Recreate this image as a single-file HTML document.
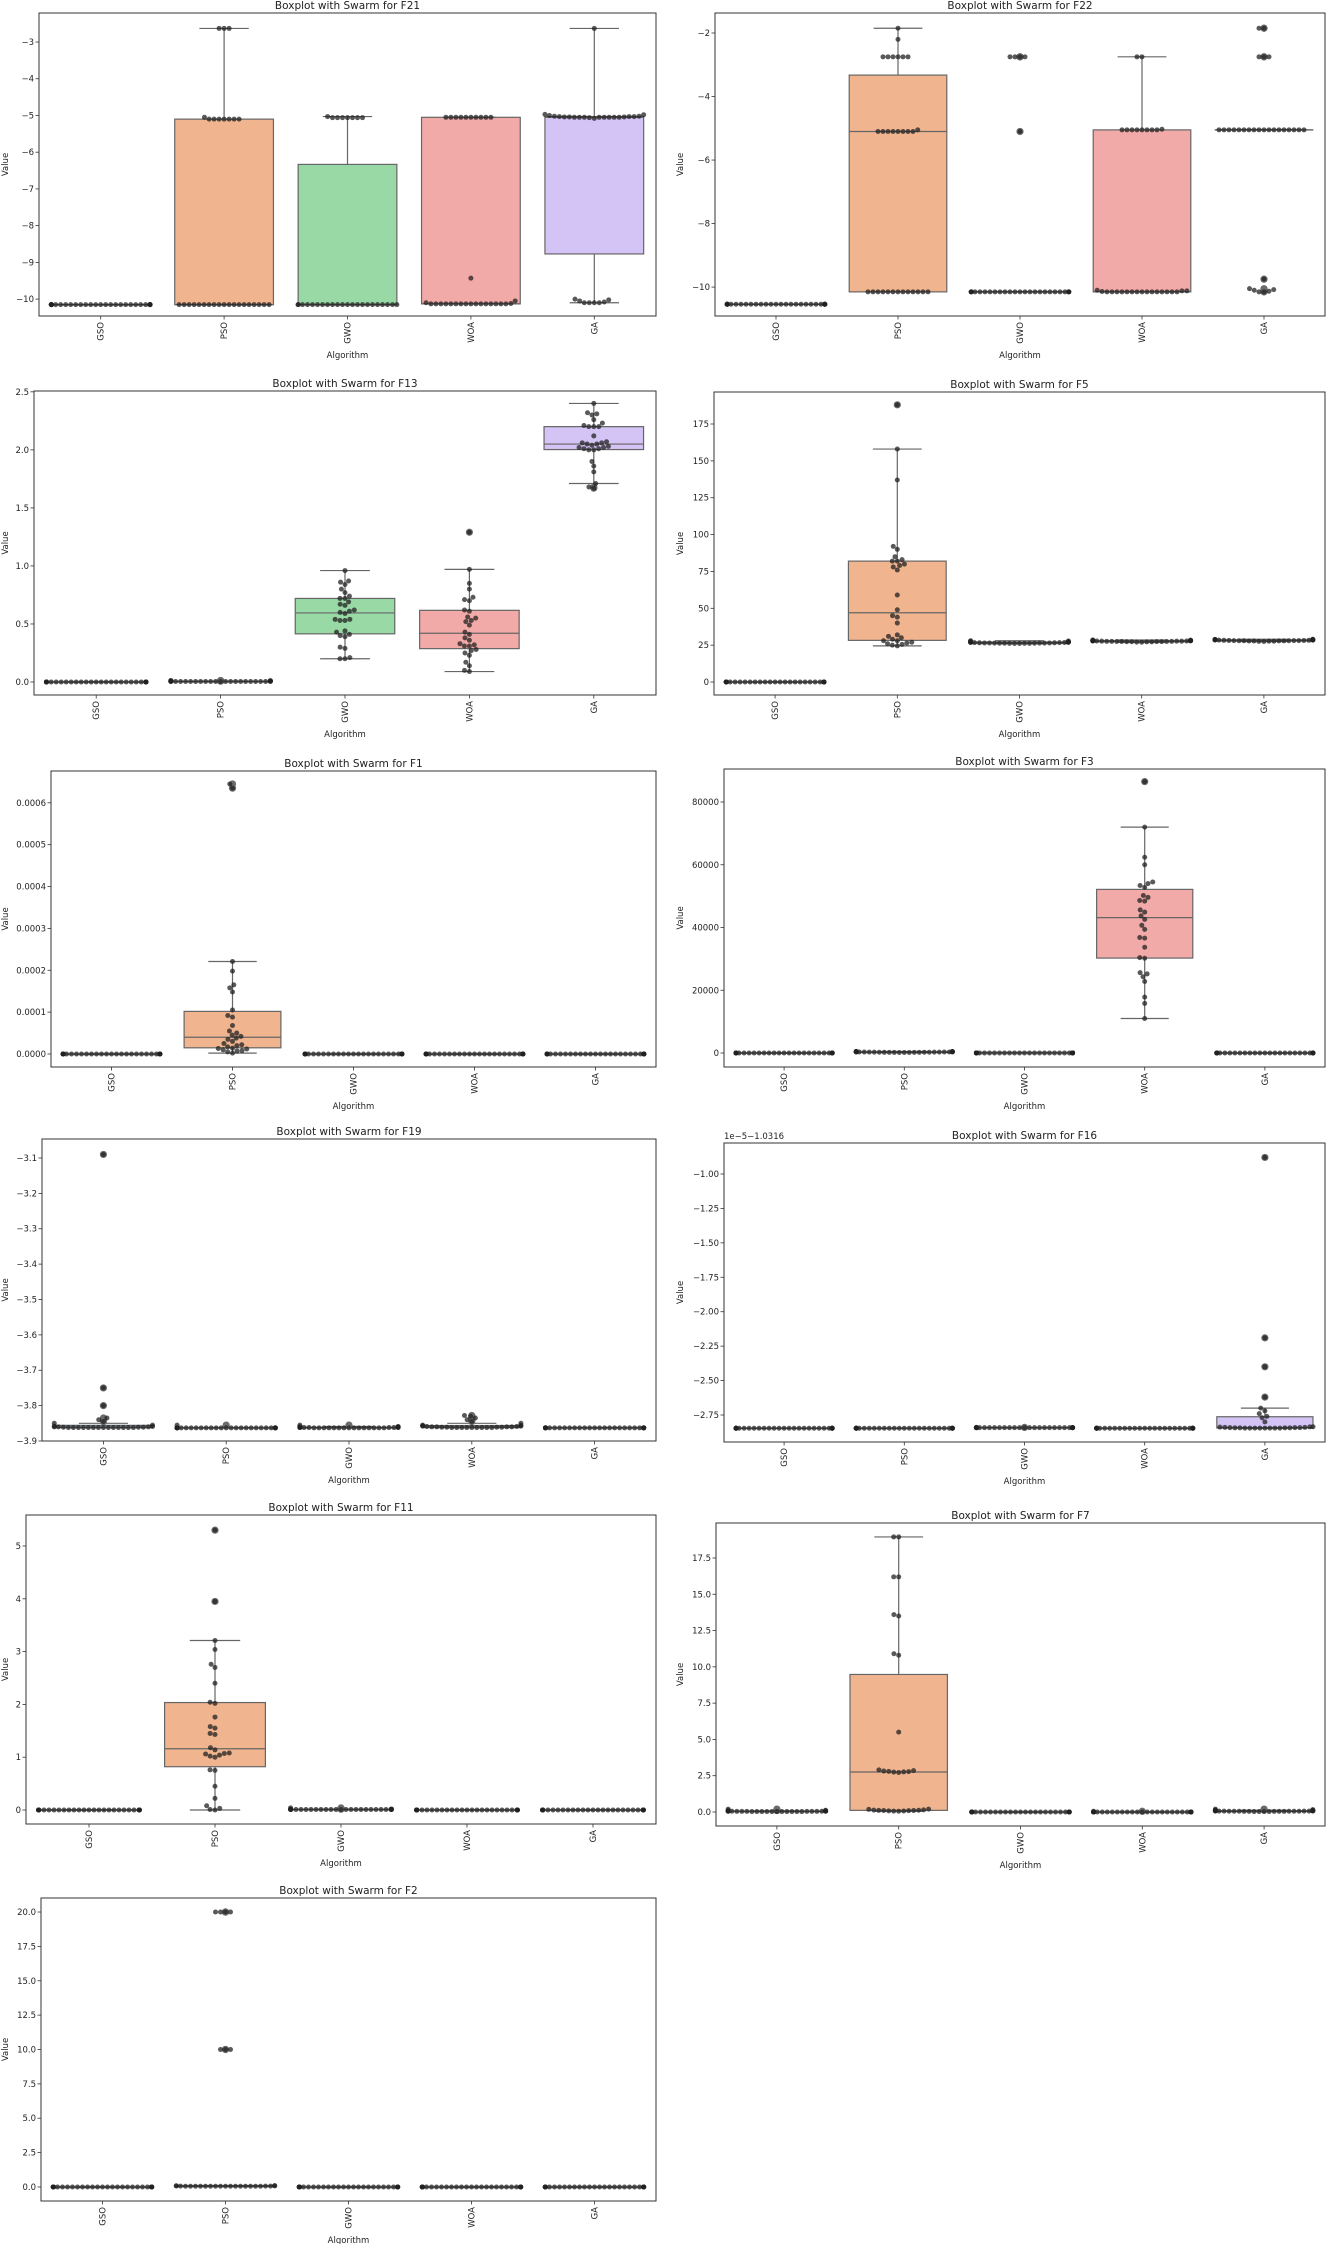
<!DOCTYPE html>
<html><head><meta charset="utf-8"><title>Boxplots with Swarm</title>
<style>
html,body{margin:0;padding:0;background:#fff;}
svg{display:block;}
text{font-family:"DejaVu Sans","Liberation Sans",sans-serif;fill:#222;}
</style></head>
<body>
<svg id="fig" width="1327" height="2244" viewBox="0 0 1327 2244" xmlns="http://www.w3.org/2000/svg"></svg>
<script>
const categories = ["GSO","PSO","GWO","WOA","GA"];
const boxColors = ["#a9cbee","#f0b58f","#98d9a6","#f2aaa8","#d4c3f5"];

// ---- F21 ----
const f21Ticks = [-10,-9,-8,-7,-6,-5,-4,-3];
const f21TickLabels = ["−10","−9","−8","−7","−6","−5","−4","−3"];
const f21GSO = [-10.15,-10.15,-10.15,-10.15,-10.15,-10.15,-10.15,-10.15,-10.15,-10.15,-10.15,-10.15,-10.15,-10.15,-10.15,-10.15,-10.15,-10.15,-10.15,-10.15,-10.15,-10.15,-10.15,-10.15,-10.15,-10.15,-10.15,-10.15,-10.15,-10.15];
const f21PSO = [-10.15,-10.15,-10.15,-10.15,-10.15,-10.15,-10.15,-10.15,-10.15,-10.15,-10.15,-10.15,-10.15,-10.15,-10.15,-10.15,-10.15,-10.15,-10.15,-5.1,-5.1,-5.1,-5.1,-5.1,-5.1,-5.1,-5.05,-2.63,-2.63,-2.63];
const f21GWO = [-10.15,-10.15,-10.15,-10.15,-10.15,-10.15,-10.15,-10.15,-10.15,-10.15,-10.15,-10.15,-10.15,-10.15,-10.15,-10.15,-10.15,-10.15,-10.15,-10.15,-10.15,-10.15,-5.06,-5.06,-5.06,-5.06,-5.06,-5.06,-5.06,-5.03];
const f21WOA = [-10.13,-10.13,-10.13,-10.13,-10.13,-10.13,-10.13,-10.13,-10.13,-10.13,-10.13,-10.13,-10.13,-10.13,-10.13,-10.13,-10.12,-10.1,-10.05,-9.43,-5.05,-5.05,-5.05,-5.05,-5.05,-5.05,-5.05,-5.05,-5.05,-5.05];
const f21GA = [-10.1,-10.1,-10.1,-10.1,-10.08,-10.05,-10.02,-10.0,-5.08,-5.06,-5.05,-5.05,-5.05,-5.05,-5.05,-5.05,-5.05,-5.05,-5.04,-5.04,-5.04,-5.03,-5.03,-5.03,-5.02,-5.02,-5.0,-4.98,-4.97,-2.63];

// ---- F22 ----
const f22Ticks = [-10,-8,-6,-4,-2];
const f22TickLabels = ["−10","−8","−6","−4","−2"];
const f22GSO = [-10.54,-10.54,-10.54,-10.54,-10.54,-10.54,-10.54,-10.54,-10.54,-10.54,-10.54,-10.54,-10.54,-10.54,-10.54,-10.54,-10.54,-10.54,-10.54,-10.54,-10.54,-10.54,-10.54,-10.54,-10.54,-10.54,-10.54,-10.54,-10.54,-10.54];
const f22PSO = [-10.15,-10.15,-10.15,-10.15,-10.15,-10.15,-10.15,-10.15,-10.15,-10.15,-10.15,-10.15,-10.15,-5.1,-5.1,-5.1,-5.1,-5.1,-5.1,-5.1,-5.1,-5.05,-2.75,-2.75,-2.75,-2.75,-2.75,-2.75,-2.2,-1.85];
const f22GWO = [-10.15,-10.15,-10.15,-10.15,-10.15,-10.15,-10.15,-10.15,-10.15,-10.15,-10.15,-10.15,-10.15,-10.15,-10.15,-10.15,-10.15,-10.15,-10.15,-10.15,-10.15,-10.15,-10.15,-10.15,-10.15,-5.1,-2.75,-2.75,-2.75,-2.75];
const f22WOA = [-10.15,-10.15,-10.15,-10.15,-10.15,-10.15,-10.15,-10.15,-10.15,-10.15,-10.15,-10.15,-10.15,-10.15,-10.15,-10.14,-10.12,-10.12,-10.1,-5.05,-5.05,-5.05,-5.05,-5.05,-5.05,-5.05,-5.05,-5.03,-2.75,-2.75];
const f22GA = [-10.15,-10.15,-10.13,-10.1,-10.08,-10.05,-9.75,-5.05,-5.05,-5.05,-5.05,-5.05,-5.05,-5.05,-5.05,-5.05,-5.05,-5.05,-5.05,-5.05,-5.05,-5.05,-5.05,-5.05,-5.05,-2.75,-2.75,-2.75,-1.85,-1.85];

// ---- F13 ----
const f13Ticks = [0,0.5,1,1.5,2,2.5];
const f13TickLabels = ["0.0","0.5","1.0","1.5","2.0","2.5"];
const f13GSO = [0,0,0,0,0,0,0,0,0,0,0,0,0,0,0,0,0,0,0,0,0,0,0,0,0,0,0,0,0,0];
const f13PSO = [0.004,0.004,0.004,0.004,0.004,0.004,0.004,0.004,0.004,0.004,0.004,0.004,0.004,0.004,0.004,0.004,0.004,0.004,0.004,0.004,0.005,0.005,0.005,0.006,0.007,0.008,0.009,0.01,0.012,0.013];
const f13GWO = [0.2,0.2,0.21,0.29,0.3,0.39,0.4,0.41,0.43,0.44,0.53,0.53,0.54,0.54,0.59,0.6,0.61,0.62,0.66,0.67,0.69,0.72,0.72,0.74,0.77,0.8,0.84,0.86,0.87,0.96];
const f13WOA = [0.09,0.1,0.14,0.17,0.23,0.25,0.27,0.28,0.31,0.31,0.32,0.33,0.36,0.38,0.41,0.43,0.49,0.52,0.53,0.55,0.56,0.61,0.62,0.7,0.71,0.73,0.8,0.85,0.97,1.29];
const f13GA = [1.67,1.68,1.71,1.81,1.86,1.9,2.0,2.0,2.01,2.01,2.02,2.02,2.03,2.04,2.05,2.05,2.06,2.06,2.07,2.12,2.2,2.2,2.2,2.21,2.23,2.26,2.3,2.31,2.32,2.4];

// ---- F5 ----
const f5Ticks = [0,25,50,75,100,125,150,175];
const f5TickLabels = ["0","25","50","75","100","125","150","175"];
const f5GSO = [0,0,0,0,0,0,0,0,0,0,0,0,0,0,0,0,0,0,0,0,0,0,0,0,0,0,0,0,0,0];
const f5PSO = [24.5,25,25.5,26,26.5,27,28,28,29,30,31,32,40,44,45,49,59,76,78,79,80,82,82,83,85,90,92,137,158,188];
const f5GWO = [26.1,26.1,26.2,26.2,26.2,26.3,26.3,26.3,26.4,26.4,26.4,26.5,26.5,26.5,26.6,26.6,26.7,26.7,26.8,26.8,26.9,27.0,27.0,27.1,27.2,27.3,27.4,27.6,27.8,28.0];
const f5WOA = [27.0,27.1,27.2,27.2,27.3,27.3,27.4,27.4,27.5,27.5,27.5,27.6,27.6,27.6,27.7,27.7,27.7,27.8,27.8,27.8,27.9,27.9,28.0,28.0,28.1,28.1,28.2,28.3,28.4,28.5];
const f5GA = [27.5,27.6,27.7,27.7,27.8,27.8,27.9,27.9,28.0,28.0,28.0,28.1,28.1,28.1,28.2,28.2,28.3,28.3,28.4,28.4,28.5,28.5,28.6,28.6,28.7,28.7,28.8,28.8,28.9,29.0];

// ---- F1 ----
const f1Ticks = [0,0.0001,0.0002,0.0003,0.0004,0.0005,0.0006];
const f1TickLabels = ["0.0000","0.0001","0.0002","0.0003","0.0004","0.0005","0.0006"];
const f1GSO = [0,0,0,0,0,0,0,0,0,0,0,0,0,0,0,0,0,0,0,0,0,0,0,0,0,0,0,0,0,0];
const f1PSO = [0.000002,0.000005,0.000007,0.000008,0.00001,0.000012,0.000013,0.000014,0.000017,0.00002,0.000022,0.000025,0.00003,0.000035,0.000038,0.000042,0.000045,0.00005,0.000055,0.000068,0.000088,0.000092,0.000105,0.000148,0.000158,0.000165,0.000198,0.000221,0.000635,0.000645];
const f1GWO = [0,0,0,0,0,0,0,0,0,0,0,0,0,0,0,0,0,0,0,0,0,0,0,0,0,0,0,0,0,0];
const f1WOA = [0,0,0,0,0,0,0,0,0,0,0,0,0,0,0,0,0,0,0,0,0,0,0,0,0,0,0,0,0,0];
const f1GA = [0,0,0,0,0,0,0,0,0,0,0,0,0,0,0,0,0,0,0,0,0,0,0,0,0,0,0,0,0,0];

// ---- F3 ----
const f3Ticks = [0,20000,40000,60000,80000];
const f3TickLabels = ["0","20000","40000","60000","80000"];
const f3GSO = [0,0,0,0,0,0,0,0,0,0,0,0,0,0,0,0,0,0,0,0,0,0,0,0,0,0,0,0,0,0];
const f3PSO = [150,160,170,180,190,200,210,220,230,240,250,260,270,280,290,300,310,320,330,340,350,360,370,380,390,400,420,440,460,500];
const f3GWO = [20,20,20,20,20,20,20,20,20,20,20,20,20,20,20,20,20,20,20,20,20,20,20,20,20,20,20,20,20,20];
const f3WOA = [11000,15800,17800,22800,24300,25200,25600,30200,30400,33700,36600,36800,39400,40700,42600,43700,44900,45600,48400,48600,49600,50200,52800,53400,54000,54500,60000,62400,72000,86500];
const f3GA = [10,10,10,10,10,10,10,10,10,10,10,10,10,10,10,10,10,10,10,10,10,10,10,10,10,10,10,10,10,10];

// ---- F19 ----
const f19Ticks = [-3.9,-3.8,-3.7,-3.6,-3.5,-3.4,-3.3,-3.2,-3.1];
const f19TickLabels = ["−3.9","−3.8","−3.7","−3.6","−3.5","−3.4","−3.3","−3.2","−3.1"];
const f19GSO = [-3.862,-3.862,-3.862,-3.862,-3.862,-3.862,-3.862,-3.862,-3.862,-3.862,-3.862,-3.862,-3.862,-3.862,-3.861,-3.861,-3.861,-3.86,-3.86,-3.86,-3.859,-3.858,-3.855,-3.85,-3.845,-3.84,-3.835,-3.8,-3.75,-3.09];
const f19PSO = [-3.863,-3.863,-3.863,-3.863,-3.863,-3.863,-3.863,-3.863,-3.863,-3.863,-3.863,-3.863,-3.863,-3.863,-3.863,-3.863,-3.863,-3.863,-3.863,-3.863,-3.863,-3.863,-3.863,-3.863,-3.863,-3.863,-3.863,-3.863,-3.863,-3.855];
const f19GWO = [-3.863,-3.863,-3.863,-3.863,-3.863,-3.863,-3.863,-3.863,-3.863,-3.863,-3.863,-3.863,-3.863,-3.863,-3.863,-3.862,-3.862,-3.862,-3.862,-3.862,-3.862,-3.862,-3.861,-3.861,-3.861,-3.86,-3.86,-3.86,-3.859,-3.855];
const f19WOA = [-3.862,-3.862,-3.862,-3.862,-3.862,-3.862,-3.862,-3.862,-3.862,-3.861,-3.861,-3.861,-3.861,-3.86,-3.86,-3.86,-3.86,-3.859,-3.859,-3.858,-3.858,-3.857,-3.856,-3.855,-3.85,-3.845,-3.84,-3.835,-3.83,-3.828];
const f19GA = [-3.863,-3.863,-3.863,-3.863,-3.863,-3.863,-3.863,-3.863,-3.863,-3.863,-3.863,-3.863,-3.863,-3.863,-3.863,-3.863,-3.863,-3.863,-3.863,-3.863,-3.863,-3.863,-3.863,-3.863,-3.863,-3.863,-3.863,-3.863,-3.863,-3.863];

// ---- F16 (values in units of 1e-5, offset -1.0316) ----
const f16Ticks = [-2.75,-2.5,-2.25,-2.0,-1.75,-1.5,-1.25,-1.0];
const f16TickLabels = ["−2.75","−2.50","−2.25","−2.00","−1.75","−1.50","−1.25","−1.00"];
const f16GSO = [-2.846,-2.846,-2.846,-2.846,-2.846,-2.846,-2.846,-2.846,-2.846,-2.846,-2.846,-2.846,-2.846,-2.846,-2.846,-2.846,-2.846,-2.846,-2.846,-2.846,-2.846,-2.846,-2.846,-2.846,-2.846,-2.846,-2.846,-2.846,-2.846,-2.846];
const f16PSO = [-2.846,-2.846,-2.846,-2.846,-2.846,-2.846,-2.846,-2.846,-2.846,-2.846,-2.846,-2.846,-2.846,-2.846,-2.846,-2.846,-2.846,-2.846,-2.846,-2.846,-2.846,-2.846,-2.846,-2.846,-2.846,-2.846,-2.846,-2.846,-2.846,-2.846];
const f16GWO = [-2.842,-2.842,-2.842,-2.842,-2.842,-2.842,-2.842,-2.842,-2.842,-2.842,-2.842,-2.842,-2.842,-2.842,-2.842,-2.842,-2.842,-2.842,-2.842,-2.842,-2.842,-2.842,-2.842,-2.842,-2.842,-2.842,-2.842,-2.842,-2.842,-2.84];
const f16WOA = [-2.846,-2.846,-2.846,-2.846,-2.846,-2.846,-2.846,-2.846,-2.846,-2.846,-2.846,-2.846,-2.846,-2.846,-2.846,-2.846,-2.846,-2.846,-2.846,-2.846,-2.846,-2.846,-2.846,-2.846,-2.846,-2.846,-2.846,-2.846,-2.846,-2.846];
const f16GA = [-2.845,-2.845,-2.845,-2.845,-2.845,-2.845,-2.845,-2.845,-2.843,-2.843,-2.843,-2.843,-2.842,-2.842,-2.842,-2.84,-2.84,-2.838,-2.836,-2.835,-2.8,-2.77,-2.76,-2.74,-2.72,-2.7,-2.62,-2.4,-2.19,-0.88];

// ---- F11 ----
const f11Ticks = [0,1,2,3,4,5];
const f11TickLabels = ["0","1","2","3","4","5"];
const f11GSO = [0,0,0,0,0,0,0,0,0,0,0,0,0,0,0,0,0,0,0,0,0,0,0,0,0,0,0,0,0,0];
const f11PSO = [0,0.01,0.03,0.08,0.22,0.45,0.75,0.76,1.0,1.02,1.04,1.06,1.07,1.08,1.14,1.18,1.43,1.45,1.55,1.58,1.76,2.02,2.04,2.4,2.7,2.76,3.04,3.21,3.95,5.3];
const f11GWO = [0.01,0.01,0.01,0.01,0.01,0.01,0.01,0.01,0.01,0.01,0.01,0.01,0.01,0.01,0.01,0.01,0.01,0.01,0.01,0.01,0.01,0.01,0.01,0.01,0.01,0.01,0.01,0.015,0.02,0.04];
const f11WOA = [0,0,0,0,0,0,0,0,0,0,0,0,0,0,0,0,0,0,0,0,0,0,0,0,0,0,0,0,0,0];
const f11GA = [0,0,0,0,0,0,0,0,0,0,0,0,0,0,0,0,0,0,0,0,0,0,0,0,0,0,0,0,0,0];

// ---- F7 ----
const f7Ticks = [0,2.5,5,7.5,10,12.5,15,17.5];
const f7TickLabels = ["0.0","2.5","5.0","7.5","10.0","12.5","15.0","17.5"];
const f7GSO = [0.03,0.03,0.03,0.03,0.03,0.03,0.03,0.03,0.03,0.03,0.03,0.04,0.04,0.04,0.04,0.04,0.04,0.05,0.05,0.05,0.05,0.05,0.06,0.06,0.06,0.07,0.08,0.1,0.12,0.2];
const f7PSO = [0.05,0.06,0.07,0.08,0.09,0.1,0.1,0.11,0.12,0.13,0.15,0.18,0.2,2.72,2.75,2.76,2.78,2.8,2.82,2.85,2.9,5.5,10.8,10.9,13.5,13.6,16.2,16.2,18.95,18.95];
const f7GWO = [0,0,0,0,0,0,0,0,0,0,0,0,0,0,0,0,0,0,0,0,0,0,0,0,0,0,0,0,0,0];
const f7WOA = [0,0,0,0,0,0,0,0,0,0,0,0,0,0,0,0,0,0,0,0,0,0,0,0,0,0,0,0,0,0.05];
const f7GA = [0.03,0.03,0.03,0.03,0.04,0.04,0.04,0.04,0.04,0.05,0.05,0.05,0.05,0.05,0.05,0.06,0.06,0.06,0.06,0.07,0.07,0.07,0.08,0.08,0.09,0.1,0.12,0.14,0.16,0.2];

// ---- F2 ----
const f2Ticks = [0,2.5,5,7.5,10,12.5,15,17.5,20];
const f2TickLabels = ["0.0","2.5","5.0","7.5","10.0","12.5","15.0","17.5","20.0"];
const f2GSO = [0,0,0,0,0,0,0,0,0,0,0,0,0,0,0,0,0,0,0,0,0,0,0,0,0,0,0,0,0,0];
const f2PSO = [0.05,0.05,0.05,0.05,0.05,0.05,0.05,0.05,0.05,0.05,0.05,0.05,0.05,0.05,0.05,0.05,0.06,0.06,0.06,0.07,0.08,0.09,0.1,10,10,10,20,20,20,20];
const f2GWO = [0,0,0,0,0,0,0,0,0,0,0,0,0,0,0,0,0,0,0,0,0,0,0,0,0,0,0,0,0,0];
const f2WOA = [0,0,0,0,0,0,0,0,0,0,0,0,0,0,0,0,0,0,0,0,0,0,0,0,0,0,0,0,0,0];
const f2GA = [0,0,0,0,0,0,0,0,0,0,0,0,0,0,0,0,0,0,0,0,0,0,0,0,0,0,0,0,0,0];

// ---- layout (pixel geometry kept separate from data) ----
const panels = [
 {id:"f21",title:"Boxplot with Swarm for F21",L:39,R:656,T:13,B:316,ymin:-10.46,ymax:-2.21,labX:5,data:[f21GSO,f21PSO,f21GWO,f21WOA,f21GA],ticks:f21Ticks,tl:f21TickLabels},
 {id:"f22",title:"Boxplot with Swarm for F22",L:715,R:1325,T:13,B:316,ymin:-10.91,ymax:-1.37,labX:680,data:[f22GSO,f22PSO,f22GWO,f22WOA,f22GA],ticks:f22Ticks,tl:f22TickLabels},
 {id:"f13",title:"Boxplot with Swarm for F13",L:34,R:656,T:391,B:695,ymin:-0.112,ymax:2.507,labX:5,data:[f13GSO,f13PSO,f13GWO,f13WOA,f13GA],ticks:f13Ticks,tl:f13TickLabels},
 {id:"f5",title:"Boxplot with Swarm for F5",L:714,R:1325,T:392,B:695,ymin:-8.8,ymax:196.7,labX:680,data:[f5GSO,f5PSO,f5GWO,f5WOA,f5GA],ticks:f5Ticks,tl:f5TickLabels},
 {id:"f1",title:"Boxplot with Swarm for F1",L:51,R:656,T:771,B:1067,ymin:-0.0000311,ymax:0.000676,labX:5,data:[f1GSO,f1PSO,f1GWO,f1WOA,f1GA],ticks:f1Ticks,tl:f1TickLabels},
 {id:"f3",title:"Boxplot with Swarm for F3",L:724,R:1325,T:769,B:1067,ymin:-4462,ymax:90518,labX:680,data:[f3GSO,f3PSO,f3GWO,f3WOA,f3GA],ticks:f3Ticks,tl:f3TickLabels},
 {id:"f19",title:"Boxplot with Swarm for F19",L:42,R:656,T:1139,B:1441,ymin:-3.9,ymax:-3.0463,labX:5,data:[f19GSO,f19PSO,f19GWO,f19WOA,f19GA],ticks:f19Ticks,tl:f19TickLabels},
 {id:"f16",title:"Boxplot with Swarm for F16",L:724,R:1325,T:1143,B:1442,ymin:-2.946,ymax:-0.775,labX:680,data:[f16GSO,f16PSO,f16GWO,f16WOA,f16GA],ticks:f16Ticks,tl:f16TickLabels,offset:"1e−5−1.0316"},
 {id:"f11",title:"Boxplot with Swarm for F11",L:26,R:656,T:1515,B:1824,ymin:-0.265,ymax:5.587,labX:5,data:[f11GSO,f11PSO,f11GWO,f11WOA,f11GA],ticks:f11Ticks,tl:f11TickLabels},
 {id:"f7",title:"Boxplot with Swarm for F7",L:716,R:1325,T:1523,B:1826,ymin:-0.965,ymax:19.91,labX:680,data:[f7GSO,f7PSO,f7GWO,f7WOA,f7GA],ticks:f7Ticks,tl:f7TickLabels},
 {id:"f2",title:"Boxplot with Swarm for F2",L:41,R:656,T:1898,B:2201,ymin:-1.02,ymax:21.02,labX:5,data:[f2GSO,f2PSO,f2GWO,f2WOA,f2GA],ticks:f2Ticks,tl:f2TickLabels}
];

const NS = "http://www.w3.org/2000/svg";
const svg = document.getElementById("fig");
function mk(tag, attrs, parent){
  const e = document.createElementNS(NS, tag);
  for (const k in attrs) e.setAttribute(k, attrs[k]);
  parent.appendChild(e);
  return e;
}
function quant(s, q){
  const pos = (s.length-1)*q, lo = Math.floor(pos), hi = Math.ceil(pos);
  return s[lo] + (s[hi]-s[lo])*(pos-lo);
}
function stats(vals){
  const s = vals.slice().sort((a,b)=>a-b);
  const q1 = quant(s,0.25), med = quant(s,0.5), q3 = quant(s,0.75), iqr = q3-q1;
  const lof = q1-1.5*iqr, hif = q3+1.5*iqr;
  const inside = s.filter(v=>v>=lof-1e-12 && v<=hif+1e-12);
  return {q1, med, q3, lo: inside[0], hi: inside[inside.length-1], fliers: s.filter(v=>v<lof-1e-12 || v>hif+1e-12)};
}
function swarm(pys, d, maxOff){
  const idx = pys.map((y,i)=>i).sort((a,b)=>pys[b]-pys[a]);
  const placed = [], out = new Array(pys.length);
  for (const i of idx){
    const py = pys[i];
    const cands = [0];
    const near = placed.filter(q=>Math.abs(q.y-py) < d);
    for (const q of near){
      const dx = Math.sqrt(Math.max(0, d*d - (q.y-py)*(q.y-py)));
      cands.push(q.x+dx, q.x-dx);
    }
    cands.sort((a,b)=>Math.abs(a)-Math.abs(b) || a-b);
    let x = 0;
    for (const c of cands){
      if (near.every(q=>Math.hypot(q.x-c, q.y-py) >= d-0.01)) { x = c; break; }
    }
    placed.push({x, y:py});
    out[i] = Math.max(-maxOff, Math.min(maxOff, x));
  }
  return out;
}

panels.forEach(p=>{
  const g = mk("g", {}, svg);
  
  
  const y = v => p.B - (v - p.ymin)/(p.ymax - p.ymin)*(p.B - p.T);
  const band = (p.R - p.L)/categories.length;
  const cx = i => p.L + band*(i+0.5);

  const title = mk("text", {x:(p.L+p.R)/2, y:p.T-4, "text-anchor":"middle", "font-size":"10.5"}, g);
  title.textContent = p.title;
  
  

  if (p.offset){
    const ot = mk("text", {x:p.L, y:p.T-4, "font-size":"8.5"}, g);
    ot.textContent = p.offset;
    
    
  }

  p.ticks.forEach((t,k)=>{
    const ty = y(t);
    const tk = mk("line", {x1:p.L-3.5, x2:p.L, y1:ty, y2:ty, stroke:"#333", "stroke-width":"0.8"}, g);
    
    
    const lb = mk("text", {x:p.L-5, y:ty+3, "text-anchor":"end", "font-size":"8.5"}, g);
    lb.textContent = p.tl[k];
    
    
  });
  const yl = mk("text", {x:0, y:0, "text-anchor":"middle", "font-size":"8.5", transform:`translate(${p.labX+3},${(p.T+p.B)/2}) rotate(-90)`}, g);
  yl.textContent = "Value";
  
  

  categories.forEach((c,i)=>{
    const x = cx(i);
    const tk = mk("line", {x1:x, x2:x, y1:p.B, y2:p.B+3.5, stroke:"#333", "stroke-width":"0.8"}, g);
    
    
    const lb = mk("text", {x:0, y:0, "text-anchor":"end", "font-size":"8.5", transform:`translate(${x+3},${p.B+6}) rotate(-90)`}, g);
    lb.textContent = c;
    
    
  });
  const xl = mk("text", {x:(p.L+p.R)/2, y:p.B+42, "text-anchor":"middle", "font-size":"8.5"}, g);
  xl.textContent = "Algorithm";
  
  

  const bw = band*0.8;
  p.data.forEach((vals,i)=>{
    const s = stats(vals), x = cx(i);
    const bg = mk("g", {}, g);
    
    
    const rect = mk("rect", {x:x-bw/2, y:y(s.q3), width:bw, height:Math.max(0.1, y(s.q1)-y(s.q3)), fill:boxColors[i], stroke:"#666", "stroke-width":"1.2"}, bg);
    
    
    const w1 = mk("line", {x1:x, x2:x, y1:y(s.q3), y2:y(s.hi), stroke:"#666", "stroke-width":"1.2"}, bg);
    
    
    const w2 = mk("line", {x1:x, x2:x, y1:y(s.q1), y2:y(s.lo), stroke:"#666", "stroke-width":"1.2"}, bg);
    
    
    const c1 = mk("line", {x1:x-bw/4, x2:x+bw/4, y1:y(s.hi), y2:y(s.hi), stroke:"#666", "stroke-width":"1.2"}, bg);
    
    
    const c2 = mk("line", {x1:x-bw/4, x2:x+bw/4, y1:y(s.lo), y2:y(s.lo), stroke:"#666", "stroke-width":"1.2"}, bg);
    
    
    const md = mk("line", {x1:x-bw/2, x2:x+bw/2, y1:y(s.med), y2:y(s.med), stroke:"#666", "stroke-width":"1.2"}, bg);
    
    
    s.fliers.forEach(v=>{
      const f = mk("circle", {cx:x, cy:y(v), r:3.6, fill:"#6b6b6b"}, bg);
      
      
    });
  });

  p.data.forEach((vals,i)=>{
    const pys = vals.map(v=>y(v));
    const offs = swarm(pys, 5, band*0.4);
    const sg = mk("g", {}, g);
    
    
    pys.forEach((py,k)=>{
      const c = mk("circle", {cx:cx(i)+offs[k], cy:py, r:2.5, fill:"#222", "fill-opacity":"0.75"}, sg);
      
      
    });
  });

  const frame = mk("rect", {x:p.L, y:p.T, width:p.R-p.L, height:p.B-p.T, fill:"none", stroke:"#333", "stroke-width":"1"}, g);
  
  
});
</script>
</body></html>
